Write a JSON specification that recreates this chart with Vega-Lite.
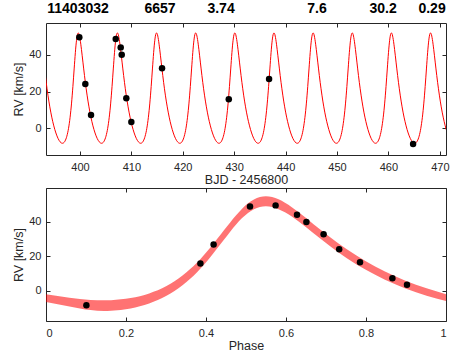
{
  "$schema": "https://vega.github.io/schema/vega-lite/v6.json",
  "padding": {"left": 12, "top": 1, "right": 5, "bottom": 2},
  "spacing": 0,
  "config": {
    "font": "Liberation Sans",
    "view": {"stroke": "#262626", "strokeWidth": 1},
    "axis": {"labelFont": "Liberation Sans", "titleFont": "Liberation Sans", "labelFontSize": 11, "titleFontSize": 12.5, "titleFontWeight": "normal", "labelColor": "#262626", "titleColor": "#262626", "tickColor": "#262626", "domain": false, "grid": false, "tickSize": -4},
    "axisX": {"labelPadding": 10},
    "axisY": {"labelPadding": 9}
  },
  "datasets": {
    "curve": [
      {"t":391.948,"v":51.55},{"t":392.063,"v":52.0},{"t":392.181,"v":51.57},{"t":392.425,"v":48.39},{"t":392.686,"v":42.89},{"t":392.969,"v":36.06},{"t":393.273,"v":28.74},{"t":393.603,"v":21.53},{"t":393.955,"v":14.81},{"t":394.328,"v":8.78},{"t":394.718,"v":3.57},{"t":395.12,"v":-0.76},
      {"t":395.528,"v":-4.17},{"t":395.936,"v":-6.59},{"t":396.338,"v":-7.94},{"t":396.592,"v":-8.2},{"t":396.728,"v":-8.12},{"t":397.101,"v":-6.98},{"t":397.453,"v":-4.35},{"t":397.783,"v":-0.06},{"t":398.088,"v":5.98},{"t":398.37,"v":13.71},{"t":398.631,"v":22.76},{"t":398.876,"v":32.33},{"t":399.108,"v":41.2},{"t":399.222,"v":44.92},{"t":399.335,"v":47.97},{"t":399.447,"v":50.2},{"t":399.561,"v":51.55},{"t":399.676,"v":52.0},{"t":399.794,"v":51.57},{"t":400.038,"v":48.39},{"t":400.299,"v":42.89},{"t":400.582,"v":36.06},{"t":400.886,"v":28.74},{"t":401.216,"v":21.53},{"t":401.568,"v":14.81},{"t":401.941,"v":8.78},{"t":402.331,"v":3.57},{"t":402.733,"v":-0.76},
      {"t":403.141,"v":-4.17},{"t":403.549,"v":-6.59},{"t":403.951,"v":-7.94},{"t":404.205,"v":-8.2},{"t":404.341,"v":-8.12},{"t":404.714,"v":-6.98},{"t":405.066,"v":-4.35},{"t":405.396,"v":-0.06},{"t":405.701,"v":5.98},{"t":405.983,"v":13.71},{"t":406.244,"v":22.76},{"t":406.489,"v":32.33},{"t":406.721,"v":41.2},{"t":406.835,"v":44.92},{"t":406.948,"v":47.97},{"t":407.06,"v":50.2},{"t":407.174,"v":51.55},{"t":407.289,"v":52.0},{"t":407.407,"v":51.57},{"t":407.651,"v":48.39},{"t":407.912,"v":42.89},{"t":408.195,"v":36.06},{"t":408.499,"v":28.74},{"t":408.829,"v":21.53},{"t":409.181,"v":14.81},{"t":409.554,"v":8.78},{"t":409.944,"v":3.57},{"t":410.346,"v":-0.76},
      {"t":410.754,"v":-4.17},{"t":411.162,"v":-6.59},{"t":411.564,"v":-7.94},{"t":411.818,"v":-8.2},{"t":411.954,"v":-8.12},{"t":412.327,"v":-6.98},{"t":412.679,"v":-4.35},{"t":413.009,"v":-0.06},{"t":413.314,"v":5.98},{"t":413.596,"v":13.71},{"t":413.857,"v":22.76},{"t":414.102,"v":32.33},{"t":414.334,"v":41.2},{"t":414.448,"v":44.92},{"t":414.561,"v":47.97},{"t":414.673,"v":50.2},{"t":414.787,"v":51.55},{"t":414.902,"v":52.0},{"t":415.02,"v":51.57},{"t":415.264,"v":48.39},{"t":415.525,"v":42.89},{"t":415.808,"v":36.06},{"t":416.112,"v":28.74},{"t":416.442,"v":21.53},{"t":416.794,"v":14.81},{"t":417.167,"v":8.78},{"t":417.557,"v":3.57},{"t":417.959,"v":-0.76},
      {"t":418.367,"v":-4.17},{"t":418.775,"v":-6.59},{"t":419.177,"v":-7.94},{"t":419.431,"v":-8.2},{"t":419.567,"v":-8.12},{"t":419.94,"v":-6.98},{"t":420.292,"v":-4.35},{"t":420.622,"v":-0.06},{"t":420.927,"v":5.98},{"t":421.209,"v":13.71},{"t":421.47,"v":22.76},{"t":421.715,"v":32.33},{"t":421.947,"v":41.2},{"t":422.061,"v":44.92},{"t":422.174,"v":47.97},{"t":422.286,"v":50.2},{"t":422.4,"v":51.55},{"t":422.515,"v":52.0},{"t":422.633,"v":51.57},{"t":422.877,"v":48.39},{"t":423.138,"v":42.89},{"t":423.421,"v":36.06},{"t":423.725,"v":28.74},{"t":424.055,"v":21.53},{"t":424.407,"v":14.81},{"t":424.78,"v":8.78},{"t":425.17,"v":3.57},{"t":425.572,"v":-0.76},
      {"t":425.98,"v":-4.17},{"t":426.388,"v":-6.59},{"t":426.79,"v":-7.94},{"t":427.044,"v":-8.2},{"t":427.18,"v":-8.12},{"t":427.553,"v":-6.98},{"t":427.905,"v":-4.35},{"t":428.235,"v":-0.06},{"t":428.54,"v":5.98},{"t":428.822,"v":13.71},{"t":429.083,"v":22.76},{"t":429.328,"v":32.33},{"t":429.56,"v":41.2},{"t":429.674,"v":44.92},{"t":429.787,"v":47.97},{"t":429.899,"v":50.2},{"t":430.013,"v":51.55},{"t":430.128,"v":52.0},{"t":430.246,"v":51.57},{"t":430.49,"v":48.39},{"t":430.751,"v":42.89},{"t":431.034,"v":36.06},{"t":431.338,"v":28.74},{"t":431.668,"v":21.53},{"t":432.02,"v":14.81},{"t":432.393,"v":8.78},{"t":432.783,"v":3.57},{"t":433.185,"v":-0.76},
      {"t":433.593,"v":-4.17},{"t":434.001,"v":-6.59},{"t":434.403,"v":-7.94},{"t":434.657,"v":-8.2},{"t":434.793,"v":-8.12},{"t":435.166,"v":-6.98},{"t":435.518,"v":-4.35},{"t":435.848,"v":-0.06},{"t":436.153,"v":5.98},{"t":436.435,"v":13.71},{"t":436.696,"v":22.76},{"t":436.941,"v":32.33},{"t":437.173,"v":41.2},{"t":437.287,"v":44.92},{"t":437.4,"v":47.97},{"t":437.512,"v":50.2},{"t":437.626,"v":51.55},{"t":437.741,"v":52.0},{"t":437.859,"v":51.57},{"t":438.103,"v":48.39},{"t":438.364,"v":42.89},{"t":438.647,"v":36.06},{"t":438.951,"v":28.74},{"t":439.281,"v":21.53},{"t":439.633,"v":14.81},{"t":440.006,"v":8.78},{"t":440.396,"v":3.57},{"t":440.798,"v":-0.76},
      {"t":441.206,"v":-4.17},{"t":441.614,"v":-6.59},{"t":442.016,"v":-7.94},{"t":442.27,"v":-8.2},{"t":442.406,"v":-8.12},{"t":442.779,"v":-6.98},{"t":443.131,"v":-4.35},{"t":443.461,"v":-0.06},{"t":443.766,"v":5.98},{"t":444.048,"v":13.71},{"t":444.309,"v":22.76},{"t":444.554,"v":32.33},{"t":444.786,"v":41.2},{"t":444.9,"v":44.92},{"t":445.013,"v":47.97},{"t":445.125,"v":50.2},{"t":445.239,"v":51.55},{"t":445.354,"v":52.0},{"t":445.472,"v":51.57},{"t":445.716,"v":48.39},{"t":445.977,"v":42.89},{"t":446.26,"v":36.06},{"t":446.564,"v":28.74},{"t":446.894,"v":21.53},{"t":447.246,"v":14.81},{"t":447.619,"v":8.78},{"t":448.009,"v":3.57},{"t":448.411,"v":-0.76},
      {"t":448.819,"v":-4.17},{"t":449.227,"v":-6.59},{"t":449.629,"v":-7.94},{"t":449.883,"v":-8.2},{"t":450.019,"v":-8.12},{"t":450.392,"v":-6.98},{"t":450.744,"v":-4.35},{"t":451.074,"v":-0.06},{"t":451.379,"v":5.98},{"t":451.661,"v":13.71},{"t":451.922,"v":22.76},{"t":452.167,"v":32.33},{"t":452.399,"v":41.2},{"t":452.513,"v":44.92},{"t":452.626,"v":47.97},{"t":452.738,"v":50.2},{"t":452.852,"v":51.55},{"t":452.967,"v":52.0},{"t":453.085,"v":51.57},{"t":453.329,"v":48.39},{"t":453.59,"v":42.89},{"t":453.873,"v":36.06},{"t":454.177,"v":28.74},{"t":454.507,"v":21.53},{"t":454.859,"v":14.81},{"t":455.232,"v":8.78},{"t":455.622,"v":3.57},{"t":456.024,"v":-0.76},
      {"t":456.432,"v":-4.17},{"t":456.84,"v":-6.59},{"t":457.242,"v":-7.94},{"t":457.496,"v":-8.2},{"t":457.632,"v":-8.12},{"t":458.005,"v":-6.98},{"t":458.357,"v":-4.35},{"t":458.687,"v":-0.06},{"t":458.992,"v":5.98},{"t":459.274,"v":13.71},{"t":459.535,"v":22.76},{"t":459.78,"v":32.33},{"t":460.012,"v":41.2},{"t":460.126,"v":44.92},{"t":460.239,"v":47.97},{"t":460.351,"v":50.2},{"t":460.465,"v":51.55},{"t":460.58,"v":52.0},{"t":460.698,"v":51.57},{"t":460.942,"v":48.39},{"t":461.203,"v":42.89},{"t":461.486,"v":36.06},{"t":461.79,"v":28.74},{"t":462.12,"v":21.53},{"t":462.472,"v":14.81},{"t":462.845,"v":8.78},{"t":463.235,"v":3.57},{"t":463.637,"v":-0.76},
      {"t":464.045,"v":-4.17},{"t":464.453,"v":-6.59},{"t":464.855,"v":-7.94},{"t":465.109,"v":-8.2},{"t":465.245,"v":-8.12},{"t":465.618,"v":-6.98},{"t":465.97,"v":-4.35},{"t":466.3,"v":-0.06},{"t":466.605,"v":5.98},{"t":466.887,"v":13.71},{"t":467.148,"v":22.76},{"t":467.393,"v":32.33},{"t":467.625,"v":41.2},{"t":467.739,"v":44.92},{"t":467.852,"v":47.97},{"t":467.964,"v":50.2},{"t":468.078,"v":51.55},{"t":468.193,"v":52.0},{"t":468.311,"v":51.57},{"t":468.555,"v":48.39},{"t":468.816,"v":42.89},{"t":469.099,"v":36.06},{"t":469.403,"v":28.74},{"t":469.733,"v":21.53},{"t":470.085,"v":14.81},{"t":470.458,"v":8.78},{"t":470.848,"v":3.57},{"t":471.25,"v":-0.76},{"t":471.658,"v":-4.17}
    ],
    "obs": [
      {"t":399.88,"v":49.6},{"t":401.05,"v":24.1},{"t":402.16,"v":7.2},{"t":406.96,"v":48.7},{"t":407.93,"v":44.1},{"t":408.13,"v":40.1},{"t":409.02,"v":16.3},{"t":410.0,"v":3.4},{"t":415.97,"v":32.7},{"t":428.95,"v":15.8},{"t":436.79,"v":26.9},{"t":464.8,"v":-8.6}
    ],
    "labels": [
      {"t":399.63,"label":"11403032"},{"t":415.58,"label":"6657"},{"t":427.45,"label":"3.74"},{"t":446.12,"label":"7.6"},{"t":458.96,"label":"30.2"},{"t":468.49,"label":"0.29"}
    ],
    "band": [
      {"p":0.0,"lo":-6.6,"hi":-2.1},{"p":0.0586,"lo":-9.1,"hi":-4.1},{"p":0.1114,"lo":-11.2,"hi":-5.4},{"p":0.1448,"lo":-11.8,"hi":-5.6},{"p":0.1626,"lo":-11.7,"hi":-5.5},{"p":0.2116,"lo":-10.3,"hi":-4.3},{"p":0.2579,"lo":-7.4,"hi":-1.6},{"p":0.3012,"lo":-2.9,"hi":2.7},{"p":0.3412,"lo":3.2,"hi":8.8},{"p":0.3783,"lo":10.9,"hi":16.5},{"p":0.4126,"lo":20.0,"hi":25.5},{"p":0.4448,"lo":29.6,"hi":35.1},{"p":0.4753,"lo":38.5,"hi":43.9},{"p":0.4902,"lo":42.2,"hi":47.7},{"p":0.505,"lo":45.2,"hi":50.8},{"p":0.5198,"lo":47.4,"hi":53.0},{"p":0.5347,"lo":48.7,"hi":54.4},{"p":0.5498,"lo":49.1,"hi":54.9},{"p":0.5653,"lo":48.7,"hi":54.4},{"p":0.5974,"lo":45.6,"hi":51.2},{"p":0.6317,"lo":40.2,"hi":45.6},{"p":0.6688,"lo":33.4,"hi":38.7},{"p":0.7088,"lo":26.1,"hi":31.4},{"p":0.7521,"lo":18.9,"hi":24.1},{"p":0.7984,"lo":12.3,"hi":17.3},{"p":0.8474,"lo":6.4,"hi":11.2},{"p":0.8986,"lo":1.3,"hi":5.8},{"p":0.9514,"lo":-2.9,"hi":1.4},{"p":1.0,"lo":-6.0,"hi":-2.0}
    ],
    "phased": [
      {"p":0.101,"v":-8.5},{"p":0.386,"v":15.8},{"p":0.419,"v":26.8},{"p":0.51,"v":48.9},{"p":0.574,"v":49.6},{"p":0.6275,"v":44.2},{"p":0.651,"v":40.0},{"p":0.694,"v":32.8},{"p":0.733,"v":24.1},{"p":0.785,"v":16.6},{"p":0.866,"v":7.3},{"p":0.9025,"v":3.5}
    ]
  },
  "vconcat": [
    {
      "width": 400,
      "height": 132,
      "layer": [
        {
          "data": {"name": "curve"},
          "mark": {"type": "line", "color": "#ff0000", "strokeWidth": 1, "clip": true, "interpolate": "monotone"},
          "encoding": {
            "x": {"field": "t", "type": "quantitative", "scale": {"domain": [393.4, 471.2], "nice": false, "zero": false},
                  "axis": {"orient": "top", "labels": false, "title": null, "values": [400, 410, 420, 430, 440, 450, 460, 470]}},
            "y": {"field": "v", "type": "quantitative", "scale": {"domain": [-14.6, 57.4], "nice": false, "zero": false},
                  "axis": {"orient": "right", "labels": false, "title": null, "values": [0, 20, 40]}}
          }
        },
        {
          "data": {"name": "obs"},
          "mark": {"type": "circle", "color": "#000000", "size": 42, "opacity": 1},
          "encoding": {
            "x": {"field": "t", "type": "quantitative", "scale": {"domain": [393.4, 471.2], "nice": false, "zero": false},
                  "axis": {"orient": "bottom", "title": "BJD - 2456800", "titlePadding": 1.5, "values": [400, 410, 420, 430, 440, 450, 460, 470]}},
            "y": {"field": "v", "type": "quantitative", "scale": {"domain": [-14.6, 57.4], "nice": false, "zero": false},
                  "axis": {"orient": "left", "title": "RV [km/s]", "titlePadding": 3, "values": [0, 20, 40]}}
          }
        },
        {
          "data": {"name": "labels"},
          "mark": {"type": "text", "fontWeight": "bold", "fontSize": 14, "font": "Liberation Sans", "baseline": "alphabetic", "align": "center", "color": "#000000", "clip": false},
          "encoding": {
            "x": {"field": "t", "type": "quantitative", "scale": {"domain": [393.4, 471.2], "nice": false, "zero": false}, "axis": null},
            "y": {"datum": 62.7, "type": "quantitative", "scale": {"domain": [-14.6, 57.4], "nice": false, "zero": false}, "axis": null},
            "text": {"field": "label", "type": "nominal"}
          }
        }
      ],
      "resolve": {"axis": {"x": "independent", "y": "independent"}}
    },
    {
      "width": 400,
      "height": 133,
      "layer": [
        {
          "data": {"name": "band"},
          "mark": {"type": "area", "color": "#ff0000", "opacity": 0.55, "clip": true, "interpolate": "monotone"},
          "encoding": {
            "x": {"field": "p", "type": "quantitative", "scale": {"domain": [0, 1], "nice": false, "zero": false},
                  "axis": {"orient": "top", "labels": false, "title": null, "values": [0, 0.2, 0.4, 0.6, 0.8, 1]}},
            "y": {"field": "lo", "type": "quantitative", "scale": {"domain": [-17.6, 59.7], "nice": false, "zero": false},
                  "axis": {"orient": "right", "labels": false, "title": null, "values": [0, 20, 40]}},
            "y2": {"field": "hi"}
          }
        },
        {
          "data": {"name": "phased"},
          "mark": {"type": "circle", "color": "#000000", "size": 42, "opacity": 1},
          "encoding": {
            "x": {"field": "p", "type": "quantitative", "scale": {"domain": [0, 1], "nice": false, "zero": false},
                  "axis": {"orient": "bottom", "title": "Phase", "titlePadding": 1, "format": "~g", "values": [0, 0.2, 0.4, 0.6, 0.8, 1]}},
            "y": {"field": "v", "type": "quantitative", "scale": {"domain": [-17.6, 59.7], "nice": false, "zero": false},
                  "axis": {"orient": "left", "title": "RV [km/s]", "titlePadding": 3, "values": [0, 20, 40]}}
          }
        }
      ],
      "resolve": {"axis": {"x": "independent", "y": "independent"}}
    }
  ]
}
